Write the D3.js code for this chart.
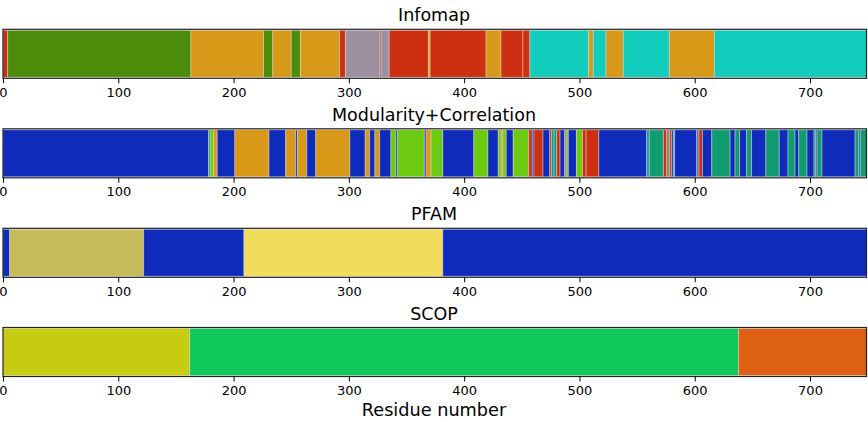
<!DOCTYPE html>
<html>
<head>
<meta charset="utf-8">
<script src="https://cdn.jsdelivr.net/npm/d3@7"></script>
<style>
  body { margin: 0; background: #fff; }
  svg { display: block; font-family: "DejaVu Sans", sans-serif; }
</style>
</head>
<body>
<svg id="chart" width="868" height="422"></svg>
<script>
// ----------- DATA -----------
const panelTitles = ["Infomap", "Modularity+Correlation", "PFAM", "SCOP"];
const tickValues = [0, 100, 200, 300, 400, 500, 600, 700];
const residueMax = 749;

const infomapBounds = [0, 4, 163, 226, 234, 250, 258, 292, 297, 327, 328, 335, 369, 370.5,
  419, 432, 451, 457, 508, 512, 523, 538, 578, 617, 749];
const infomapClusters = ["r", "g", "o", "g", "o", "g", "o", "r", "p", "r", "p", "r", "o", "r",
  "o", "r", "r", "t", "o", "t", "o", "t", "o", "t"];

const modBounds = [0, 178.3, 179.7, 182.6, 185.8, 201.1, 230.7, 245.2, 253.9, 255.4, 263.5,
  271.3, 300.9, 314.2, 318, 322.6, 326.7, 336.5, 340.9, 342.3, 365.5, 367, 371.3, 381.5,
  408.4, 420.6, 429.6, 432.2, 433.7, 436.5, 442.6, 455.9, 459.1, 460.6, 468.4, 474.2, 475.7,
  478, 480.3, 483.2, 487, 487.8, 488.9, 490.4, 497.4, 502.6, 505.8, 516.8, 558.3, 560.6,
  572.8, 575.7, 578.3, 580, 581.5, 582.6, 601.7, 603.7, 606.7, 614.8, 630.7, 635, 638.9,
  645, 649.3, 661.7, 673.3, 680.9, 687, 690.2, 697.4, 703.5, 705, 706.1, 710.4, 739.1,
  742.3, 743.5, 749];
const modClusters = ["b", "m", "l", "o", "b", "o", "b", "o", "b", "o", "b", "o", "b", "o",
  "b", "o", "b", "l", "b", "l", "b", "o", "l", "b", "l", "b", "l", "o", "l", "b", "l", "r",
  "b", "r", "b", "r", "c", "m", "r", "b", "r", "b", "l", "b", "l", "r", "r", "b", "c", "m",
  "r", "x", "r", "b", "m", "b", "y", "r", "b", "m", "b", "m", "b", "m", "b", "m", "b", "m",
  "b", "m", "b", "m", "b", "m", "b", "m", "b", "m"];

const pfamBounds = [0, 5.8, 122, 209, 381.5, 749];
const pfamClusters = ["b", "k", "b", "e", "b"];

const scopBounds = [0, 162, 638, 749];
const scopClusters = ["s1", "s2", "s3"];

const palette = {
  r: "#cc3010", g: "#4d8c0b", o: "#d89818", p: "#9c90a0", t: "#12ccbc",
  b: "#0f2bbb", l: "#6ccb10", m: "#109c70", c: "#10989c", x: "#8a8470", y: "#5a6cb0",
  k: "#c8bb5a", e: "#f1dc5c",
  s1: "#c6cc10", s2: "#11c85a", s3: "#de6013"
};

const panelData = [
  [infomapBounds, infomapClusters],
  [modBounds, modClusters],
  [pfamBounds, pfamClusters],
  [scopBounds, scopClusters]
];

// ----------- DRAW -----------
const svg = d3.select("#chart");
const x = d3.scaleLinear().domain([0, residueMax]).range([3, 866.5]);
const panelTops = [29.3, 128.8, 228.3, 327.5];
const panelH = 49;

panelData.forEach(([bounds, clusters], i) => {
  const top = panelTops[i];
  const g = svg.append("g");

  const segs = clusters.map((c, j) => ({ start: bounds[j], end: bounds[j + 1], c: c }));

  g.selectAll("rect.seg")
    .data(segs)
    .enter()
    .append("rect")
    .attr("class", "seg")
    .attr("x", d => x(d.start))
    .attr("y", top + 1)
    .attr("width", d => x(d.end) - x(d.start))
    .attr("height", panelH - 2)
    .attr("fill", d => palette[d.c])
    .attr("stroke", "rgba(220,220,220,0.45)")
    .attr("stroke-width", 1);

  // frame
  g.append("rect")
    .attr("x", x(0))
    .attr("y", top)
    .attr("width", x(residueMax) - x(0))
    .attr("height", panelH)
    .attr("fill", "none")
    .attr("stroke", "#222")
    .attr("stroke-width", 1.2);

  const axis = d3.axisBottom(x).tickValues(tickValues).tickSize(5).tickPadding(4);
  const ax = g.append("g")
    .attr("transform", `translate(0,${top + panelH})`)
    .call(axis);
  ax.select(".domain").remove();
  ax.selectAll(".tick line").attr("stroke", "#000").attr("stroke-width", 1);
  ax.selectAll(".tick text")
    .attr("fill", "#000")
    .style("font-size", "13px")
    .style("font-family", "DejaVu Sans");

  g.append("text")
    .attr("x", 434)
    .attr("y", top - 8)
    .attr("text-anchor", "middle")
    .style("font-size", "17.5px")
    .attr("fill", "#000")
    .text(panelTitles[i]);
});

svg.append("text")
  .attr("x", 434)
  .attr("y", 416)
  .attr("text-anchor", "middle")
  .style("font-size", "17.7px")
  .attr("fill", "#000")
  .text("Residue number");
</script>
</body>
</html>
